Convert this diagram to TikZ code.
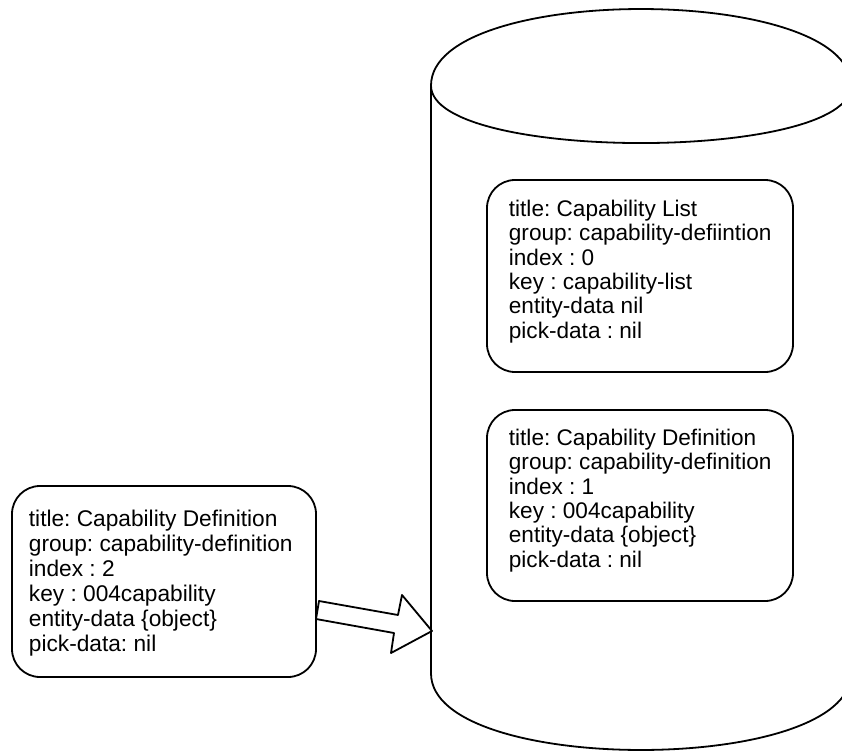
\documentclass[tikz,border=0pt]{standalone}
\usepackage{fontspec}
\setmainfont{Liberation Sans}
\frenchspacing
\begin{document}
\begin{tikzpicture}[x=1pt,y=-1pt,line width=1.8pt,line join=round,
  rbox/.style={draw=black,fill=white,rounded corners=28pt,anchor=north west,inner sep=0pt,outer sep=0pt},
  btext/.style={anchor=north west,inner sep=0pt,align=left,font=\frenchspacing\fontsize{22.6}{24.4}\selectfont},
  ltext/.style={btext,font=\frenchspacing\fontsize{22.7}{25}\selectfont}]
\useasboundingbox (0,0) rectangle (842,752);
\clip (0,0) rectangle (842,752);
% cylinder
\coordinate (cyltl) at (431,85.6);
\coordinate (cyltr) at (851,85.6);
\coordinate (cylbl) at (431,673.4);
\coordinate (cylbr) at (851,673.4);
\draw[fill=white] (cyltl) .. controls (431,-16.5) and (851,-16.5) .. (cyltr)
  -- (cylbr) .. controls (851,775.5) and (431,775.5) .. (cylbl) -- cycle;
\draw (cyltl) .. controls (431,162.2) and (851,162.2) .. (cyltr);
% block arrow
\draw[fill=white] (319,601) -- (398,615) -- (402,595) -- (432,631) -- (391,653) -- (394,633) -- (316,619) -- cycle;
% boxes
\node[rbox,minimum width=306pt,minimum height=192pt] (list) at (487,180) {};
\node[rbox,minimum width=306pt,minimum height=191pt] (def1) at (487,410) {};
\node[rbox,minimum width=304pt,minimum height=191pt] (def2) at (12,486) {};
% texts
\node[btext] (listtext) at (508,199) {title: Capability List\\group: capability-defiintion\\index : 0\\key : capability-list\\entity-data nil\\pick-data : nil};
\node[btext] (def1text) at (508,428) {title: Capability Definition\\group: capability-definition\\index : 1\\key : 004capability\\entity-data \{object\}\\pick-data : nil};
\node[ltext] (def2text) at (28,509) {title: Capability Definition\\group: capability-definition\\index : 2\\key : 004capability\\entity-data \{object\}\\pick-data: nil};
\end{tikzpicture}
\end{document}
